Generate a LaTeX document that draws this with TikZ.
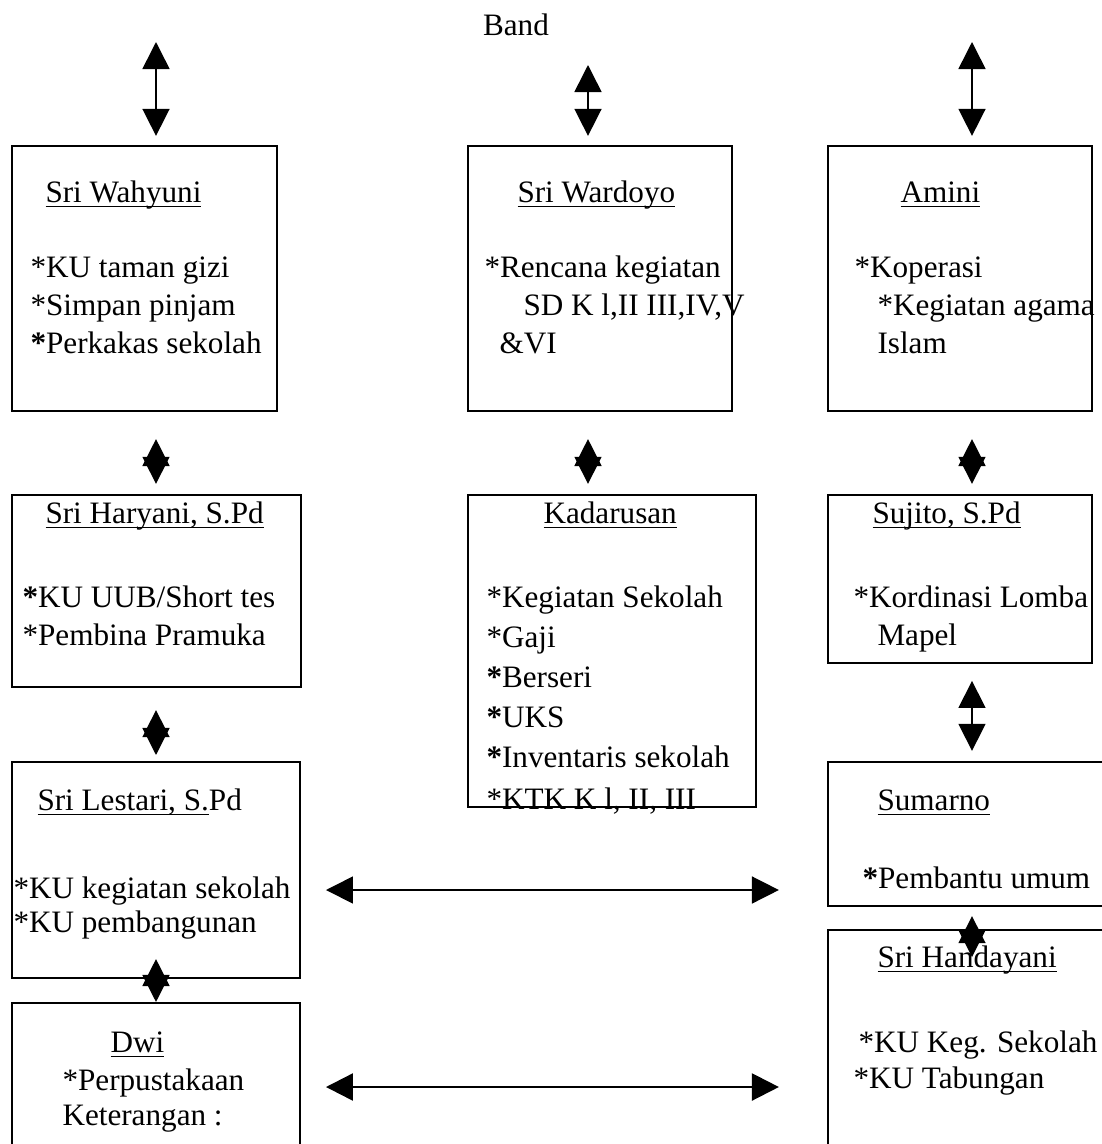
\documentclass[tikz,border=0pt]{standalone}
\usepackage{fontspec}
\setmainfont{Liberation Serif}
\usetikzlibrary{arrows.meta,fit}
\newcommand\Uline[1]{\setbox0\hbox{#1}\rlap{\rule[-2.1pt]{\wd0}{0.6pt}}\box0}
\def\StaffBox#1#2#3#4#5{%
 \node[staff box, fit={(#2,#3) (#4,#5)}] (#1) {};
}
\def\Duty#1#2#3#4{%
 \node[duty] (#1) at (#2,#3) {#4};
}
\begin{document}
\begin{tikzpicture}[x=0.385pt, y=-0.385pt,
  staff box/.style={draw, line width=0.8pt, inner sep=0pt},
  duty/.style={anchor=base west, inner sep=0pt, font=\fontsize{12pt}{14pt}\selectfont},
  two way/.style={{Triangle[length=10.4pt,width=10.4pt]}-{Triangle[length=10.4pt,width=10.4pt]}, line width=0.6pt}]
\useasboundingbox (0,0) rectangle (1102,1144);
\clip (0,0) rectangle (1102,1144);
\node[duty, anchor=center] (band) at (516,25) {Band};
\coordinate (up1) at (156,42);
\coordinate (up2) at (588,65);
\coordinate (up3) at (972,42);
% first row
\StaffBox{wahyuni}{12}{146}{277}{411}
\StaffBox{wardoyo}{468}{146}{732}{411}
\StaffBox{amini}{828}{146}{1092}{411}
\Duty{wahyuni-name}{45}{202}{\Uline{Sri Wahyuni}}
\Duty{wahyuni-1}{30}{277}{*KU taman gizi}
\Duty{wahyuni-2}{30}{315}{*Simpan pinjam}
\Duty{wahyuni-3}{30}{353}{\textbf{*}Perkakas sekolah}
\Duty{wardoyo-name}{517}{202}{\Uline{Sri Wardoyo}}
\Duty{wardoyo-1}{484}{277}{*Rencana kegiatan}
\Duty{wardoyo-2}{523}{315}{SD K l,II III,IV,V}
\Duty{wardoyo-3}{499}{353}{\&VI}
\Duty{amini-name}{900}{202}{\Uline{Amini}}
\Duty{amini-1}{854}{277}{*Koperasi}
\Duty{amini-2}{877}{315}{*Kegiatan agama}
\Duty{amini-3}{877}{353}{Islam}
% second row
\StaffBox{haryani}{12}{495}{301}{687}
\StaffBox{kadarusan}{468}{495}{756}{807}
\StaffBox{sujito}{828}{495}{1092}{663}
\Duty{haryani-name}{45}{523}{\Uline{Sri Haryani, S.Pd}}
\Duty{haryani-1}{22}{607}{\textbf{*}KU UUB/Short tes}
\Duty{haryani-2}{22}{645}{*Pembina Pramuka}
\Duty{kadarusan-name}{543}{523}{\Uline{Kadarusan}}
\Duty{kadarusan-1}{486}{607}{*Kegiatan Sekolah}
\Duty{kadarusan-2}{486}{647}{*Gaji}
\Duty{kadarusan-3}{486}{687}{\textbf{*}Berseri}
\Duty{kadarusan-4}{486}{727}{\textbf{*}UKS}
\Duty{kadarusan-5}{486}{767}{\textbf{*}Inventaris sekolah}
\Duty{kadarusan-6}{486}{809}{*KTK K l, II, III}
\Duty{sujito-name}{872}{523}{\Uline{Sujito, S.Pd}}
\Duty{sujito-1}{853}{607}{*Kordinasi Lomba}
\Duty{sujito-2}{877}{645}{Mapel}
% third and fourth row
\StaffBox{lestari}{12}{762}{300}{978}
\StaffBox{sumarno}{828}{762}{1112}{906}
\StaffBox{dwi}{12}{1003}{300}{1154}
\StaffBox{handayani}{828}{930}{1112}{1154}
\Duty{lestari-name}{37}{810}{\Uline{Sri Lestari, S.}Pd}
\Duty{lestari-1}{13}{898}{*KU kegiatan sekolah}
\Duty{lestari-2}{13}{932}{*KU pembangunan}
\Duty{sumarno-name}{877}{810}{\Uline{Sumarno}}
\Duty{sumarno-1}{862}{888}{\textbf{*}Pembantu umum}
\Duty{dwi-name}{110}{1052}{\Uline{Dwi}}
\Duty{dwi-1}{62}{1090}{*Perpustakaan}
\Duty{dwi-2}{62}{1125}{Keterangan :}
\Duty{handayani-name}{877}{967}{\Uline{Sri Handayani}}
\Duty{handayani-1}{858}{1052}{*KU Keg. Sekolah}
\Duty{handayani-2}{853}{1088}{*KU Tabungan}
% arrows
\draw[two way, shorten >=3.5pt] (up1) -- (up1 |- wahyuni.north);
\draw[two way, shorten >=3.5pt] (up2) -- (up2 |- wardoyo.north);
\draw[two way, shorten >=3.5pt] (up3) -- (up3 |- amini.north);
\draw[two way, shorten <=10.4pt, shorten >=3.9pt] (wahyuni.south -| up1) -- (haryani.north -| up1);
\draw[two way, shorten <=10.4pt, shorten >=3.9pt] (wardoyo.south -| up2) -- (kadarusan.north -| up2);
\draw[two way, shorten <=10.4pt, shorten >=3.9pt] (amini.south -| up3) -- (sujito.north -| up3);
\draw[two way, shorten <=8.5pt, shorten >=2.3pt] (haryani.south -| up1) -- (lestari.north -| up1);
\draw[two way, shorten <=6.5pt, shorten >=3.9pt] (sujito.south -| up3) -- (sumarno.north -| up3);
\draw[two way] ([yshift=7.7pt]lestari.south -| up1) -- (dwi.north -| up1);
\draw[two way] ([yshift=-3.5pt]sumarno.south -| up3) -- ([yshift=-10.8pt]handayani.north -| up3);
\draw[two way, shorten <=9.6pt, shorten >=18.5pt] (lestari.east |- 0,890) -- (sumarno.west |- 0,890);
\draw[two way, line width=0.9pt, shorten <=9.6pt, shorten >=18.5pt] (dwi.east |- 0,1087) -- (handayani.west |- 0,1087);
\end{tikzpicture}
\end{document}
